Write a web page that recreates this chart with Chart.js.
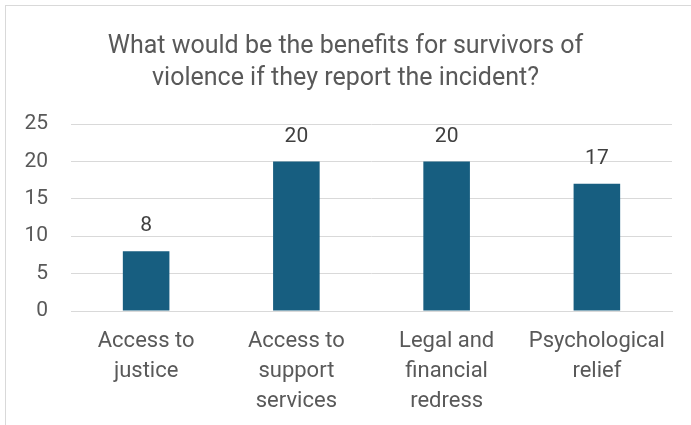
<!DOCTYPE html>
<html>
<head>
<meta charset="utf-8">
<script src="https://cdn.jsdelivr.net/npm/chart.js@4.4.1/dist/chart.umd.min.js"></script>
<style>
    html, body { margin: 0; padding: 0; background: #fff; overflow: hidden; }
    #frame {
        position: absolute; left: 5px; top: 5px; width: 720px; height: 440px;
        border: 1px solid #d9d9d9; box-sizing: border-box;
    }
    #chart { position: absolute; left: 0; top: 0; }
</style>
</head>
<body>
<div id="frame"></div>
<canvas id="chart" width="691" height="425"></canvas>
<script>
// Data kategori dan nilai
const categories = [
    ['Access to', 'justice'],
    ['Access to', 'support', 'services'],
    ['Legal and', 'financial', 'redress'],
    ['Psychological', 'relief']
];
const values = [8, 20, 20, 17];
const yTicks = [0, 5, 10, 15, 20, 25];
const chartTitle = ['What would be the benefits for survivors of', 'violence if they report the incident?'];

const textColor = '#595959';
const fontFamily = 'Roboto, "Liberation Sans", sans-serif';

// Plugin kecil untuk label nilai di atas batang
const valueLabels = {
    id: 'valueLabels',
    afterDatasetsDraw(chart) {
        const ctx = chart.ctx;
        const meta = chart.getDatasetMeta(0);
        ctx.save();
        ctx.font = '21px ' + fontFamily;
        ctx.fillStyle = '#404040';
        ctx.textAlign = 'center';
        ctx.textBaseline = 'middle';
        meta.data.forEach((bar, i) => {
            ctx.fillText(String(values[i]), bar.x, bar.y - 25);
        });
        ctx.restore();
    }
};

new Chart(document.getElementById('chart').getContext('2d'), {
    type: 'bar',
    data: {
        labels: categories,
        datasets: [{
            data: values,
            backgroundColor: '#175e80',
            borderWidth: 0,
            barPercentage: 0.5,
            categoryPercentage: 0.62
        }]
    },
    options: {
        responsive: false,
        animation: false,
        devicePixelRatio: 1,
        // padding kiri = kanan supaya judul tetap di tengah kanvas
        layout: { padding: { left: 19, right: 19, top: 0, bottom: 0 } },
        plugins: {
            legend: { display: false },
            tooltip: { enabled: false },
            title: {
                display: true,
                text: chartTitle,
                color: textColor,
                font: { family: fontFamily, size: 25, weight: 'normal', lineHeight: 1.28 },
                padding: { top: 31, bottom: 29 }
            }
        },
        scales: {
            y: {
                min: 0,
                max: 25,
                afterBuildTicks: (scale) => { scale.ticks = yTicks.map(v => ({ value: v })); },
                afterFit: (scale) => { scale.width = 52; },
                border: { display: false },
                grid: { color: '#d9d9d9', drawTicks: false },
                ticks: {
                    color: textColor,
                    padding: 23,
                    font: { family: fontFamily, size: 21 }
                }
            },
            x: {
                afterFit: (scale) => { scale.height = 114; },
                border: { color: '#d9d9d9' },
                grid: { display: false, drawTicks: false },
                ticks: {
                    color: textColor,
                    padding: 16,
                    maxRotation: 0,
                    autoSkip: false,
                    font: { family: fontFamily, size: 22, lineHeight: 1.36 }
                }
            }
        }
    },
    plugins: [valueLabels]
});
</script>
</body>
</html>
